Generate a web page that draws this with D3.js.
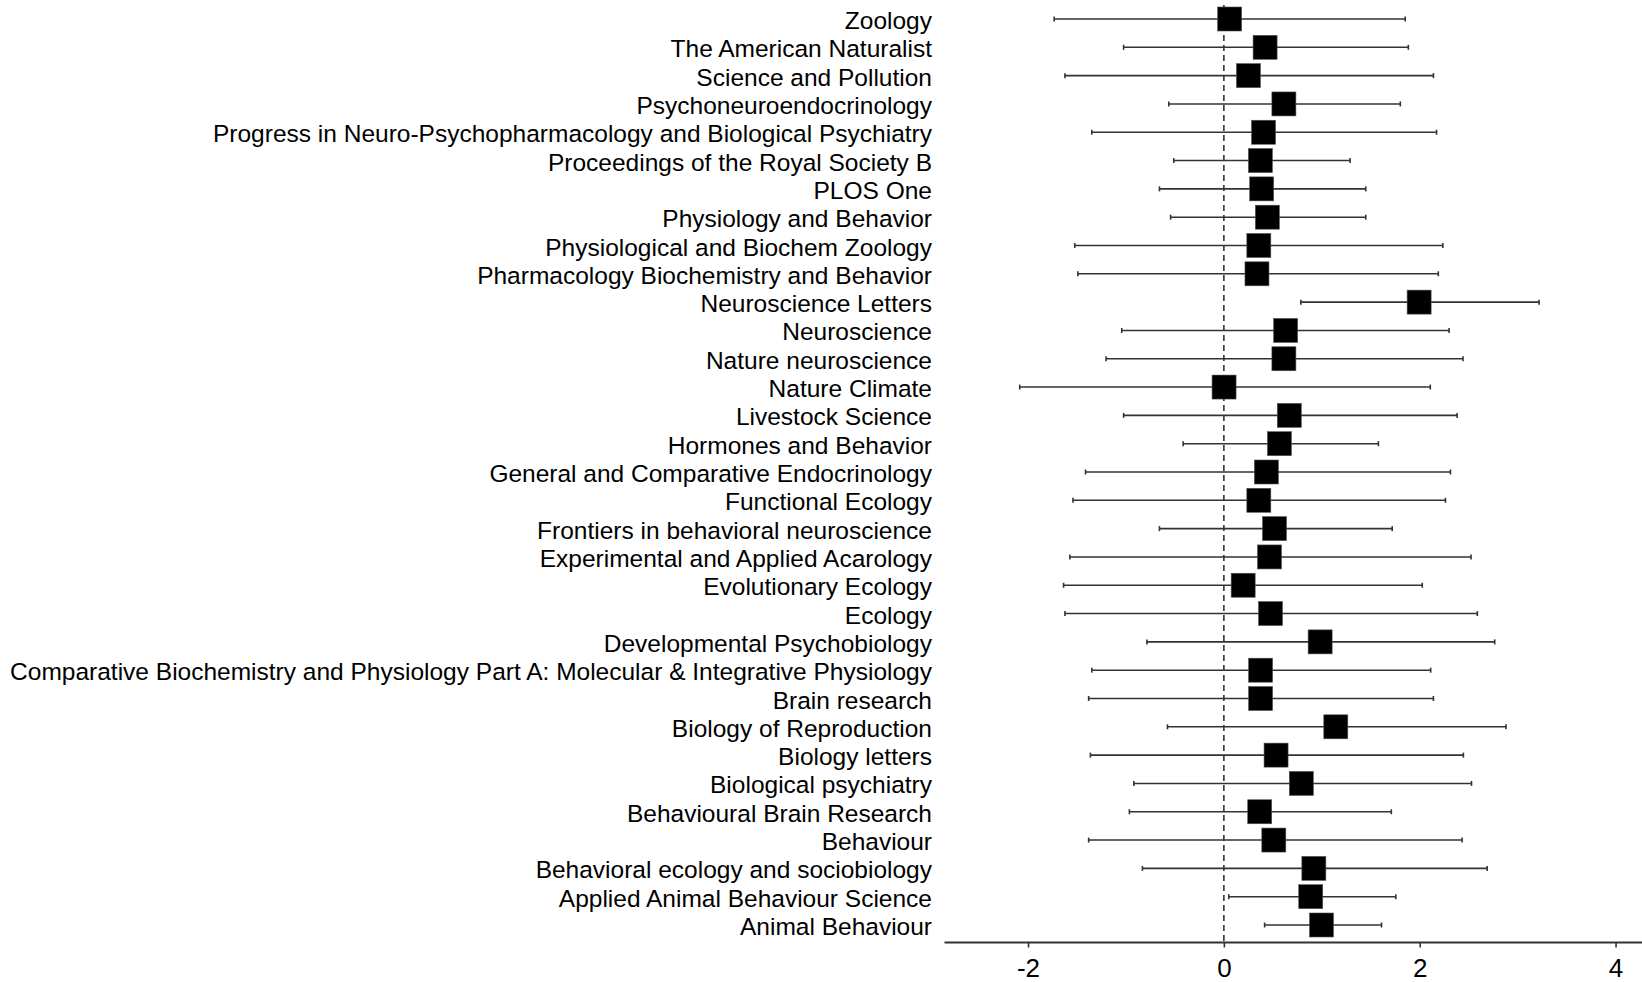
<!DOCTYPE html>
<html>
<head>
<meta charset="utf-8">
<script src="https://cdn.jsdelivr.net/npm/d3@7/dist/d3.min.js"></script>
<style>
  html, body { margin: 0; padding: 0; background: #fff; }
  svg { display: block; }
  text { font-family: "Liberation Sans", Arial, sans-serif; fill: #000; }
</style>
</head>
<body>
<svg id="chart" width="1642" height="982"></svg>
<script>
const journals = [
  "Zoology",
  "The American Naturalist",
  "Science and Pollution",
  "Psychoneuroendocrinology",
  "Progress in Neuro-Psychopharmacology and Biological Psychiatry",
  "Proceedings of the Royal Society B",
  "PLOS One",
  "Physiology and Behavior",
  "Physiological and Biochem Zoology",
  "Pharmacology Biochemistry and Behavior",
  "Neuroscience Letters",
  "Neuroscience",
  "Nature neuroscience",
  "Nature Climate",
  "Livestock Science",
  "Hormones and Behavior",
  "General and Comparative Endocrinology",
  "Functional Ecology",
  "Frontiers in behavioral neuroscience",
  "Experimental and Applied Acarology",
  "Evolutionary Ecology",
  "Ecology",
  "Developmental Psychobiology",
  "Comparative Biochemistry and Physiology Part A: Molecular & Integrative Physiology",
  "Brain research",
  "Biology of Reproduction",
  "Biology letters",
  "Biological psychiatry",
  "Behavioural Brain Research",
  "Behaviour",
  "Behavioral ecology and sociobiology",
  "Applied Animal Behaviour Science",
  "Animal Behaviour"
];
const estimate = [0.059, 0.421, 0.251, 0.613, 0.405, 0.373, 0.386, 0.444, 0.357, 0.338,
  1.994, 0.631, 0.613, 0.002, 0.668, 0.567, 0.434, 0.357, 0.517, 0.466,
  0.197, 0.476, 0.983, 0.375, 0.375, 1.143, 0.533, 0.791, 0.366, 0.510,
  0.919, 0.887, 0.997];
const lower = [-1.733, -1.024, -1.623, -0.562, -1.349, -0.512, -0.658, -0.544, -1.523, -1.491,
  0.786, -1.043, -1.203, -2.085, -1.024, -0.416, -1.413, -1.541, -0.658, -1.573,
  -1.637, -1.623, -0.786, -1.349, -1.381, -0.576, -1.363, -0.919, -0.965, -1.381,
  -0.832, 0.050, 0.416];
const upper = [1.852, 1.884, 2.140, 1.802, 2.172, 1.289, 1.449, 1.449, 2.236, 2.190,
  3.219, 2.300, 2.442, 2.108, 2.382, 1.578, 2.314, 2.263, 1.719, 2.524,
  2.026, 2.588, 2.766, 2.112, 2.140, 2.881, 2.446, 2.529, 1.710, 2.433,
  2.689, 1.756, 1.610];
const xTicks = [-2, 0, 2, 4];
const xDomain = [-2.853, 4.27];
const refValue = 0;

const data = journals.map((j, i) => ({ j, est: estimate[i], lo: lower[i], hi: upper[i] }));

const svg = d3.select("#chart");
svg.append("rect").attr("width", 1642).attr("height", 982).attr("fill", "#fff");

const x = d3.scaleLinear().domain(xDomain).range([944.5, 1642]);
const y = d3.scalePoint().domain(journals).range([19, 925]);
const axisY = 942.5;

// reference dashed line
svg.append("line")
  .attr("x1", x(refValue)).attr("x2", x(refValue))
  .attr("y1", 5).attr("y2", axisY)
  .attr("stroke", "#333").attr("stroke-width", 1.6)
  .attr("stroke-dasharray", "6,4");

// x axis
const axis = d3.axisBottom(x).tickValues(xTicks).tickSize(5).tickPadding(8)
  .tickFormat(d => String(d));
const gAxis = svg.append("g").attr("transform", `translate(0,${axisY})`).call(axis);
gAxis.select(".domain").attr("stroke", "#333").attr("stroke-width", 1.8)
  .attr("d", `M${x(xDomain[0])},0H${x(xDomain[1])}`);
gAxis.selectAll(".tick line").attr("stroke", "#333").attr("stroke-width", 1.6);
gAxis.selectAll(".tick text")
  .attr("font-family", "'Liberation Sans', Arial, sans-serif")
  .attr("font-size", 26).attr("fill", "#000")
  .attr("dy", null).attr("y", 34);

// rows
const rows = svg.append("g").selectAll("g").data(data).join("g")
  .attr("transform", d => `translate(0,${y(d.j)})`);

rows.append("line")
  .attr("x1", d => x(d.lo)).attr("x2", d => x(d.hi))
  .attr("y1", 0).attr("y2", 0)
  .attr("stroke", "#333").attr("stroke-width", 1.6);
rows.append("line")
  .attr("x1", d => x(d.lo)).attr("x2", d => x(d.lo))
  .attr("y1", -2.5).attr("y2", 2.5)
  .attr("stroke", "#333").attr("stroke-width", 1.6);
rows.append("line")
  .attr("x1", d => x(d.hi)).attr("x2", d => x(d.hi))
  .attr("y1", -2.5).attr("y2", 2.5)
  .attr("stroke", "#333").attr("stroke-width", 1.6);

const box = 24;
rows.append("rect")
  .attr("x", d => x(d.est) - box / 2).attr("y", -box / 2)
  .attr("width", box).attr("height", box)
  .attr("fill", "#000").attr("stroke", "#555").attr("stroke-width", 0.6);

rows.append("text")
  .attr("x", 932).attr("y", 10)
  .attr("text-anchor", "end")
  .attr("font-size", 24.5)
  .text(d => d.j);
</script>
</body>
</html>
